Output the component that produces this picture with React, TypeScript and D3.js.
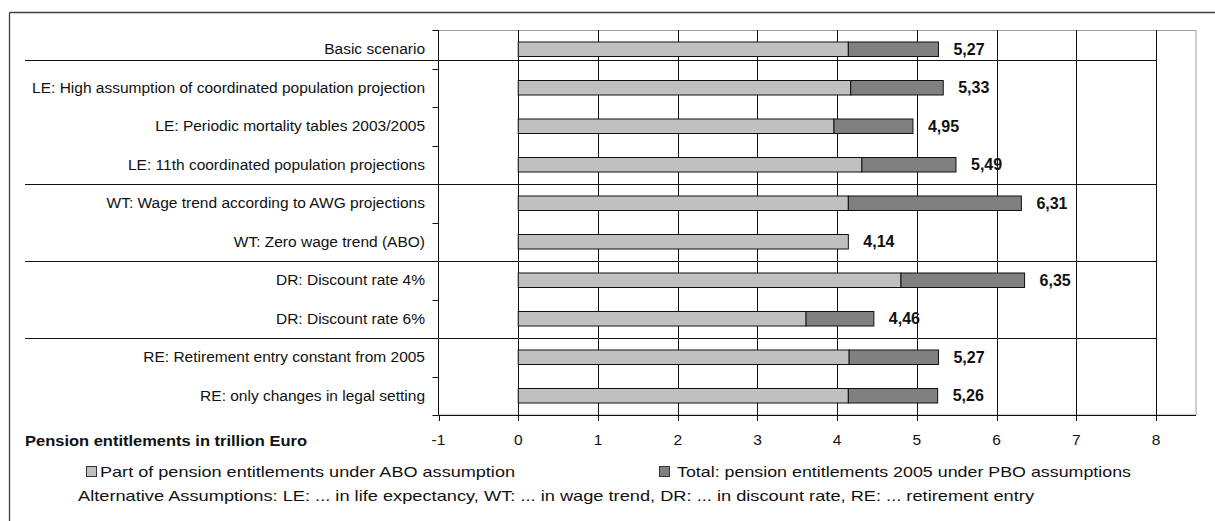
import React from "react";
import * as d3 from "d3";

const categories = [
  "Basic scenario",
  "LE: High assumption of coordinated population projection",
  "LE: Periodic mortality tables 2003/2005",
  "LE: 11th coordinated population projections",
  "WT: Wage trend according to AWG projections",
  "WT: Zero wage trend (ABO)",
  "DR: Discount rate 4%",
  "DR: Discount rate 6%",
  "RE: Retirement entry constant from 2005",
  "RE: only changes in legal setting",
];
const aboValues = [4.14, 4.17, 3.96, 4.31, 4.14, 4.14, 4.8, 3.61, 4.15, 4.14];
const totalValues = [5.27, 5.33, 4.95, 5.49, 6.31, 4.14, 6.35, 4.46, 5.27, 5.26];
const xTicks = [-1, 0, 1, 2, 3, 4, 5, 6, 7, 8];
const gridValues = [0, 1, 2, 3, 4, 5, 6, 7, 8];
const groupEndRows = [0, 3, 5, 7];
const seriesNames = [
  "Part of pension entitlements under ABO assumption",
  "Total: pension entitlements 2005 under PBO assumptions",
];
const axisTitle = "Pension entitlements in trillion Euro";
const footnote =
  "Alternative Assumptions: LE: ... in life expectancy, WT: ... in wage trend, DR: ... in discount rate, RE: ... retirement entry";

const W = 1215;
const H = 521;
const FONT = "'Liberation Sans', Arial, sans-serif";
const ABO_COLOR = "#c0c0c0";
const PBO_COLOR = "#808080";

export default function App() {
  const x = d3.scaleLinear().domain([-1, 8.5]).range([438.5, 1196]);
  const y = d3.scaleBand<string>().domain(categories).range([30, 415]);
  const bw = y.bandwidth();
  const barH = bw * 0.377;
  const fmt = (v: number) => d3.format(".2f")(v).replace(".", ",");

  const sepY = groupEndRows.map((r, i) => {
    const b = y(categories[r + 1]) as number;
    return i === 0 ? b - 8.5 : b;
  });

  return (
    <svg
      width={W}
      height={H}
      style={{ position: "absolute", left: 0, top: 0, background: "#fff" }}
      fontFamily={FONT}
    >
      {/* outer frame lines */}
      <line x1={9.5} x2={W} y1={12.5} y2={12.5} stroke="#404040" strokeWidth={1.3} />
      <line x1={9.5} x2={9.5} y1={12.5} y2={H} stroke="#404040" strokeWidth={1.3} />

      {/* plot area border */}
      <rect
        x={x(-1)}
        y={30.5}
        width={x(8.5) - x(-1)}
        height={415 - 30.5}
        fill="none"
        stroke="#a0a0a0"
      />

      {/* vertical gridlines */}
      {gridValues.map((v) => (
        <line
          key={"g" + v}
          x1={Math.round(x(v)) + 0.5}
          x2={Math.round(x(v)) + 0.5}
          y1={30}
          y2={415}
          stroke="#111"
        />
      ))}

      {/* group separators */}
      {sepY.map((sy, i) => (
        <line
          key={"s" + i}
          x1={25}
          x2={Math.round(x(8)) + 0.5}
          y1={Math.round(sy) + 0.5}
          y2={Math.round(sy) + 0.5}
          stroke="#111"
        />
      ))}

      {/* category axis */}
      <line x1={x(-1)} x2={x(-1)} y1={30} y2={415} stroke="#111" />
      {d3.range(categories.length + 1).map((i) => {
        const ty = Math.round(30 + i * bw) + 0.5;
        return <line key={"ct" + i} x1={x(-1) - 6} x2={x(-1)} y1={ty} y2={ty} stroke="#111" />;
      })}
      {categories.map((c) => (
        <text
          key={"cl" + c}
          x={425}
          y={(y(c) as number) + bw / 2 + 5}
          textAnchor="end"
          fontSize={15.5}
          fill="#111"
        >
          {c}
        </text>
      ))}

      {/* value axis */}
      <line x1={x(-1)} x2={x(8.5)} y1={415.5} y2={415.5} stroke="#111" />
      {xTicks.map((v) => (
        <g key={"xt" + v}>
          <line
            x1={Math.round(x(v)) + 0.5}
            x2={Math.round(x(v)) + 0.5}
            y1={415}
            y2={421}
            stroke="#111"
          />
          <text x={x(v)} y={445} textAnchor="middle" fontSize={15.5} fill="#111">
            {v}
          </text>
        </g>
      ))}

      {/* bars */}
      {categories.map((c, i) => {
        const by = (y(c) as number) + bw / 2 - barH / 2;
        return (
          <g key={"b" + c}>
            <rect
              x={x(0)}
              y={by}
              width={x(aboValues[i]) - x(0)}
              height={barH}
              fill={ABO_COLOR}
              stroke="#111"
              strokeWidth={1}
            />
            {totalValues[i] > aboValues[i] && (
              <rect
                x={x(aboValues[i])}
                y={by}
                width={x(totalValues[i]) - x(aboValues[i])}
                height={barH}
                fill={PBO_COLOR}
                stroke="#111"
                strokeWidth={1}
              />
            )}
            <text
              x={x(totalValues[i]) + 15}
              y={(y(c) as number) + bw / 2 + 5.5}
              fontSize={16}
              fontWeight="bold"
              fill="#111"
            >
              {fmt(totalValues[i])}
            </text>
          </g>
        );
      })}

      {/* axis title */}
      <text
        x={25}
        y={446}
        fontSize={15.5}
        fontWeight="bold"
        fill="#111"
        textLength={282}
        lengthAdjust="spacingAndGlyphs"
      >
        {axisTitle}
      </text>

      {/* legend */}
      <rect x={86.5} y={466.5} width={10} height={10} fill={ABO_COLOR} stroke="#333" />
      <text
        x={100}
        y={476.5}
        fontSize={15}
        fill="#111"
        textLength={415}
        lengthAdjust="spacingAndGlyphs"
      >
        {seriesNames[0]}
      </text>
      <rect x={659.5} y={466.5} width={10} height={10} fill={PBO_COLOR} stroke="#333" />
      <text
        x={677}
        y={476.5}
        fontSize={15}
        fill="#111"
        textLength={454}
        lengthAdjust="spacingAndGlyphs"
      >
        {seriesNames[1]}
      </text>

      <text
        x={78}
        y={501}
        fontSize={15}
        fill="#111"
        textLength={956}
        lengthAdjust="spacingAndGlyphs"
      >
        {footnote}
      </text>
    </svg>
  );
}
